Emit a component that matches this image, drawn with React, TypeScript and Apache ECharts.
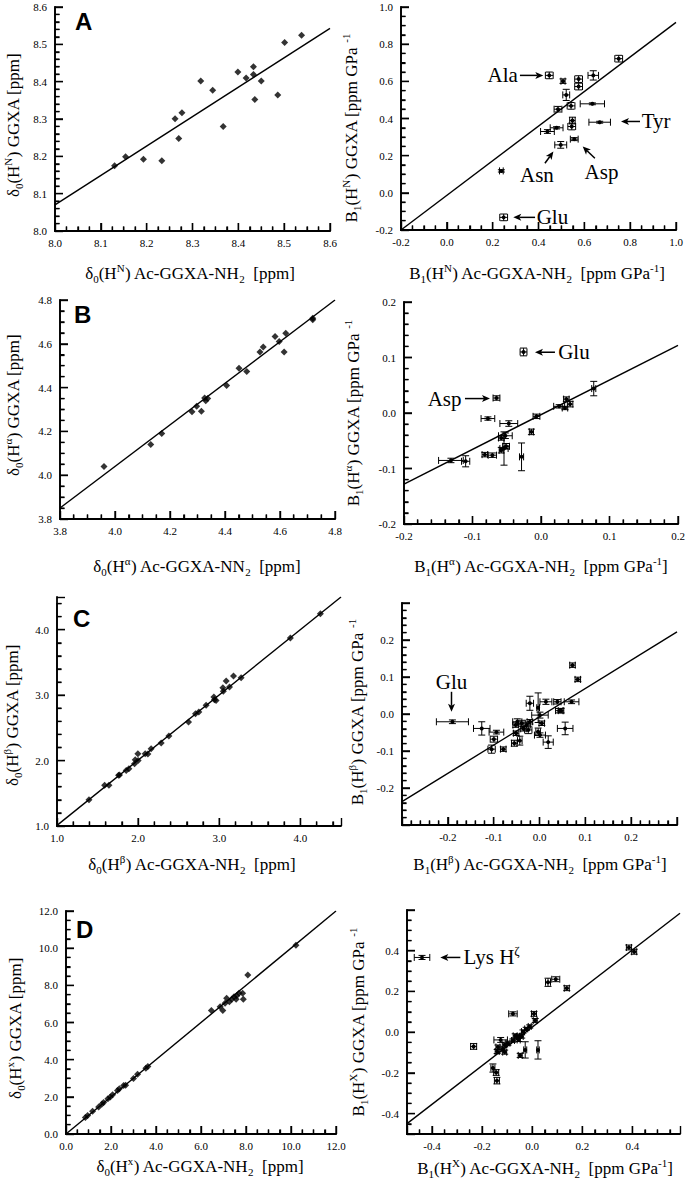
import React, { useEffect, useRef } from "react";
import * as echarts from "echarts";

const SERIF = '"Liberation Serif", "DejaVu Serif", serif';
const SANS = '"Liberation Sans", Arial, sans-serif';

// ---------- Panel A: H^N ----------
const aLeftX = [8.130, 8.154, 8.193, 8.233, 8.262, 8.270, 8.277, 8.318, 8.344, 8.367, 8.399, 8.417, 8.433, 8.433, 8.436, 8.450, 8.486, 8.501, 8.538];
const aLeftY = [8.175, 8.199, 8.192, 8.188, 8.301, 8.248, 8.317, 8.402, 8.377, 8.280, 8.426, 8.410, 8.440, 8.419, 8.352, 8.402, 8.364, 8.505, 8.524];

const aRightX = [0.447, 0.507, 0.575, 0.575, 0.639, 0.750, 0.521, 0.485, 0.542, 0.635, 0.548, 0.545, 0.667, 0.479, 0.439, 0.556, 0.497, 0.238, 0.248];
const aRightY = [0.632, 0.601, 0.612, 0.572, 0.632, 0.722, 0.527, 0.450, 0.468, 0.479, 0.389, 0.357, 0.380, 0.350, 0.330, 0.289, 0.258, 0.118, -0.132];
const aRightXErr = [0.017, 0.009, 0.017, 0.017, 0.023, 0.017, 0.015, 0.017, 0.017, 0.053, 0.012, 0.017, 0.047, 0.028, 0.030, 0.017, 0.026, 0.008, 0.017];
const aRightYErr = [0.018, 0.012, 0.018, 0.018, 0.025, 0.018, 0.030, 0.015, 0.018, 0.005, 0.018, 0.018, 0.005, 0.006, 0.010, 0.008, 0.018, 0.006, 0.018];

// ---------- Panel B: H^alpha ----------
const bLeftX = [3.96, 4.13, 4.17, 4.28, 4.297, 4.314, 4.326, 4.33, 4.337, 4.406, 4.451, 4.479, 4.527, 4.539, 4.582, 4.597, 4.615, 4.621, 4.719, 4.719];
const bLeftY = [4.04, 4.14, 4.19, 4.29, 4.315, 4.292, 4.352, 4.34, 4.35, 4.41, 4.488, 4.473, 4.562, 4.585, 4.633, 4.61, 4.562, 4.648, 4.717, 4.71];

const bRightX = [-0.0255, -0.065, -0.0775, -0.047, -0.0066, -0.014, 0.0265, 0.035, 0.037, 0.0425, 0.077, -0.052, -0.051, -0.054, -0.058, -0.082, -0.071, -0.0284, -0.1315, -0.110, -0.058];
const bRightY = [0.110, 0.027, -0.010, -0.019, -0.006, -0.034, 0.012, 0.009, 0.025, 0.016, 0.044, -0.041, -0.060, -0.064, -0.067, -0.075, -0.076, -0.079, -0.0855, -0.087, -0.045];
const bRightXErr = [0.005, 0.005, 0.010, 0.013, 0.005, 0.003, 0.008, 0.004, 0.004, 0.004, 0.003, 0.010, 0.005, 0.006, 0.003, 0.004, 0.006, 0.003, 0.018, 0.006, 0.004];
const bRightYErr = [0.007, 0.004, 0.003, 0.005, 0.004, 0.005, 0.003, 0.003, 0.004, 0.005, 0.013, 0.005, 0.005, 0.030, 0.005, 0.004, 0.004, 0.025, 0.004, 0.010, 0.004];

// ---------- Panel C: H^beta ----------
const cLeftX = [1.394, 1.587, 1.64, 1.759, 1.77, 1.853, 1.886, 1.956, 1.964, 1.997, 2.0, 2.087, 2.12, 2.16, 2.284, 2.379, 2.621, 2.707, 2.748, 2.838, 2.933, 2.96, 2.94, 3.044, 3.085, 3.05, 3.126, 3.175, 3.269, 3.876, 4.246];
const cLeftY = [1.402, 1.621, 1.621, 1.774, 1.78, 1.85, 1.876, 1.953, 2.014, 2.105, 2.0, 2.105, 2.10, 2.18, 2.268, 2.375, 2.589, 2.717, 2.742, 2.844, 2.97, 2.92, 2.93, 3.114, 3.216, 3.06, 3.124, 3.292, 3.267, 3.873, 4.245];

const cRightX = [-0.19, -0.126, -0.094, -0.0995, -0.1045, -0.079, -0.055, -0.051, -0.043, -0.0485, -0.039, -0.028, -0.0245, -0.021, -0.021, -0.003, 0.001, 0.005, -0.003, 0.001, 0.019, 0.014, 0.039, 0.070, 0.043, 0.047, 0.056, 0.072, 0.0836, -0.052, -0.035];
const cRightY = [-0.021, -0.039, -0.049, -0.068, -0.095, -0.095, -0.079, -0.052, -0.072, -0.021, -0.025, -0.030, -0.043, -0.021, 0.029, 0.017, -0.003, -0.025, -0.048, -0.057, -0.076, 0.033, 0.033, 0.033, 0.009, 0.009, -0.039, 0.132, 0.0935, -0.030, -0.040];
const cRightXErr = [0.035, 0.018, 0.016, 0.008, 0.008, 0.006, 0.006, 0.006, 0.005, 0.010, 0.008, 0.008, 0.008, 0.006, 0.008, 0.003, 0.018, 0.006, 0.005, 0.012, 0.011, 0.013, 0.008, 0.016, 0.008, 0.006, 0.017, 0.006, 0.006, 0.006, 0.006];
const cRightYErr = [0.005, 0.018, 0.005, 0.008, 0.011, 0.006, 0.008, 0.006, 0.012, 0.008, 0.008, 0.008, 0.010, 0.006, 0.019, 0.040, 0.008, 0.006, 0.010, 0.006, 0.017, 0.007, 0.006, 0.005, 0.006, 0.006, 0.017, 0.006, 0.006, 0.006, 0.006];

// ---------- Panel D: H^X ----------
const dLeftX = [0.86, 0.96, 1.18, 1.45, 1.6, 1.67, 1.86, 1.97, 2.07, 2.29, 2.37, 2.56, 2.65, 3.0, 3.18, 3.55, 3.64, 6.46, 6.85, 6.97, 7.07, 7.14, 7.26, 7.37, 7.47, 7.59, 7.56, 7.69, 7.85, 7.88, 8.08, 10.22];
const dLeftY = [0.89, 1.0, 1.22, 1.45, 1.61, 1.7, 1.9, 1.99, 2.11, 2.34, 2.43, 2.61, 2.63, 2.99, 3.22, 3.54, 3.63, 6.64, 6.85, 6.64, 7.03, 7.3, 7.12, 7.25, 7.39, 7.44, 7.25, 7.57, 7.57, 7.25, 8.55, 10.16];

const dRightX = [-0.44, -0.234, -0.077, 0.007, 0.063, 0.094, 0.138, 0.386, 0.407, 0.012, -0.01, -0.024, -0.037, -0.057, -0.068, -0.077, -0.097, -0.11, -0.126, -0.137, -0.117, -0.14, -0.11, -0.054, -0.042, -0.048, -0.028, 0.023, -0.157, -0.144, -0.141];
const dRightY = [0.367, -0.070, 0.090, 0.090, 0.245, 0.260, 0.216, 0.416, 0.395, 0.057, 0.028, 0.016, 0.003, -0.021, -0.018, -0.041, -0.054, -0.062, -0.038, -0.073, -0.083, -0.095, -0.098, -0.038, -0.021, -0.114, -0.087, -0.087, -0.176, -0.198, -0.238];
const dRightXErr = [0.031, 0.012, 0.017, 0.010, 0.010, 0.016, 0.010, 0.010, 0.010, 0.008, 0.006, 0.006, 0.006, 0.006, 0.008, 0.006, 0.008, 0.008, 0.027, 0.008, 0.008, 0.008, 0.008, 0.006, 0.006, 0.008, 0.006, 0.005, 0.008, 0.010, 0.010];
const dRightYErr = [0.010, 0.014, 0.010, 0.012, 0.020, 0.012, 0.012, 0.012, 0.012, 0.010, 0.008, 0.008, 0.008, 0.008, 0.010, 0.008, 0.010, 0.010, 0.012, 0.010, 0.010, 0.010, 0.010, 0.008, 0.008, 0.010, 0.040, 0.045, 0.020, 0.014, 0.016];

// ---------- Linear fits (intercept, slope), per panel A-left..D-right ----------
const fitIntercept = [1.766, -0.0138, 0.24, -0.003, 0.013, -0.0075, 0, 0.025];
const fitSlope = [0.788, 0.931, 0.95, 0.625, 0.997, 0.765, 1.0, 0.948];

// ---------- Axis ranges / ticks ----------
type AxSpec = { min: number; max: number; major: number; minor: number; useInterval: boolean; hideMin?: boolean; hideMax?: boolean };
const xAxes: AxSpec[] = [
  { min: 8.0, max: 8.6, major: 0.1, minor: 4, useInterval: true },
  { min: -0.2, max: 1.0, major: 0.2, minor: 4, useInterval: true },
  { min: 3.8, max: 4.8, major: 0.2, minor: 4, useInterval: true },
  { min: -0.2, max: 0.2, major: 0.1, minor: 5, useInterval: true },
  { min: 1, max: 4.5, major: 1, minor: 5, useInterval: true, hideMax: true },
  { min: -0.3, max: 0.3, major: 0.1, minor: 5, useInterval: true, hideMin: true, hideMax: true },
  { min: 0, max: 12, major: 2, minor: 4, useInterval: true },
  { min: -0.5, max: 0.59, major: 0.2, minor: 4, useInterval: false, hideMin: true, hideMax: true },
];
const yAxes: AxSpec[] = [
  { min: 8.0, max: 8.6, major: 0.1, minor: 5, useInterval: true },
  { min: -0.2, max: 1.0, major: 0.2, minor: 4, useInterval: true },
  { min: 3.8, max: 4.8, major: 0.2, minor: 4, useInterval: true },
  { min: -0.2, max: 0.2, major: 0.1, minor: 5, useInterval: true },
  { min: 1, max: 4.5, major: 1, minor: 5, useInterval: true, hideMax: true },
  { min: -0.3, max: 0.3, major: 0.1, minor: 5, useInterval: true, hideMin: true, hideMax: true },
  { min: 0, max: 12, major: 2, minor: 4, useInterval: true },
  { min: -0.5, max: 0.6, major: 0.2, minor: 4, useInterval: false, hideMin: true, hideMax: true },
];

// ---------- Layout ----------
const grids = [
  { left: 55, top: 7, width: 275, height: 224 },
  { left: 401, top: 7, width: 275, height: 223 },
  { left: 60, top: 300, width: 275, height: 219 },
  { left: 404, top: 302, width: 274, height: 222 },
  { left: 57, top: 597, width: 284, height: 229 },
  { left: 402, top: 603, width: 275, height: 222 },
  { left: 66, top: 911, width: 270, height: 223 },
  { left: 407, top: 910, width: 273, height: 224 },
];

const panelLetters = ["A", "B", "C", "D"];
const letterPos = [[75, 9], [74, 302], [73, 606], [76, 917]];

const xTitles = [
  "{n|δ}{sub|0}{n|(H}{sup|N}{n|) Ac-GGXA-NH}{sub|2}{n|  [ppm]}",
  "{n|B}{sub|1}{n|(H}{sup|N}{n|) Ac-GGXA-NH}{sub|2}{n|  [ppm GPa}{sup|-1}{n|]}",
  "{n|δ}{sub|0}{n|(H}{sup|α}{n|) Ac-GGXA-NN}{sub|2}{n|  [ppm]}",
  "{n|B}{sub|1}{n|(H}{sup|α}{n|) Ac-GGXA-NH}{sub|2}{n|  [ppm GPa}{sup|-1}{n|]}",
  "{n|δ}{sub|0}{n|(H}{sup|β}{n|) Ac-GGXA-NH}{sub|2}{n|  [ppm]}",
  "{n|B}{sub|1}{n|(H}{sup|β}{n|) Ac-GGXA-NH}{sub|2}{n|  [ppm GPa}{sup|-1}{n|]}",
  "{n|δ}{sub|0}{n|(H}{sup|x}{n|) Ac-GGXA-NH}{sub|2}{n|  [ppm]}",
  "{n|B}{sub|1}{n|(H}{sup|X}{n|) Ac-GGXA-NH}{sub|2}{n|  [ppm GPa}{sup|-1}{n|]}",
];
const yTitles = [
  "{n|δ}{sub|0}{n|(H}{sup|N}{n|) GGXA [ppm]}",
  "{n|B}{sub|1}{n|(H}{sup|N}{n|) GGXA [ppm GPa }{sup|-1}",
  "{n|δ}{sub|0}{n|(H}{sup|α}{n|) GGXA [ppm]}",
  "{n|B}{sub|1}{n|(H}{sup|α}{n|) GGXA [ppm GPa }{sup|-1}",
  "{n|δ}{sub|0}{n|(H}{sup|β}{n|) GGXA [ppm]}",
  "{n|B}{sub|1}{n|(H}{sup|β}{n|) GGXA [ppm GPa }{sup|-1}",
  "{n|δ}{sub|0}{n|(H}{sup|x}{n|) GGXA [ppm]}",
  "{n|B}{sub|1}{n|(H}{sup|X}{n|) GGXA [ppm GPa }{sup|-1}",
];
const xTitlePos = [[190, 273], [537, 273], [197, 566], [541, 566], [192, 864], [540, 864], [200, 1166], [545, 1168]];
const yTitlePos = [[13, 125], [351, 128], [13, 405], [353, 413], [12, 715], [357, 712], [15, 1028], [358, 1022]];

// Annotations (data coordinates in the given panel)
const annotations = [
  { grid: 1, label: "{a|Ala}", tail: [0.319, 0.632], tip: [0.421, 0.632], at: [0.31, 0.632], align: "right" },
  { grid: 1, label: "{a|Tyr}", tail: [0.843, 0.384], tip: [0.76, 0.384], at: [0.85, 0.384], align: "left" },
  { grid: 1, label: "{a|Asn}", tail: [0.428, 0.159], tip: [0.465, 0.222], at: [0.393, 0.097], align: "center" },
  { grid: 1, label: "{a|Asp}", tail: [0.646, 0.186], tip: [0.593, 0.249], at: [0.675, 0.114], align: "center" },
  { grid: 1, label: "{a|Glu}", tail: [0.385, -0.132], tip: [0.29, -0.132], at: [0.392, -0.132], align: "left" },
  { grid: 3, label: "{a|Glu}", tail: [0.0204, 0.1095], tip: [-0.0088, 0.1095], at: [0.025, 0.1095], align: "left" },
  { grid: 3, label: "{a|Asp}", tail: [-0.111, 0.026], tip: [-0.0745, 0.026], at: [-0.116, 0.026], align: "right" },
  { grid: 5, label: "{a|Glu}", tail: [-0.192, 0.06], tip: [-0.192, 0.006], at: [-0.192, 0.087], align: "center" },
  { grid: 7, label: "{a|Lys H}{as|ζ}", tail: [-0.287, 0.367], tip: [-0.367, 0.367], at: [-0.274, 0.367], align: "left" },
];

const titleRich = {
  n: { fontFamily: SERIF, fontSize: 17, lineHeight: 22, verticalAlign: "middle", fill: "#000" },
  sub: { fontFamily: SERIF, fontSize: 11, lineHeight: 11, verticalAlign: "bottom", fill: "#000" },
  sup: { fontFamily: SERIF, fontSize: 11, lineHeight: 11, verticalAlign: "top", fill: "#000" },
};
const annRich = {
  a: { fontFamily: SERIF, fontSize: 21, lineHeight: 26, verticalAlign: "middle", fill: "#000" },
  as: { fontFamily: SERIF, fontSize: 13, lineHeight: 13, verticalAlign: "top", fill: "#000" },
};

const fmt = (v: number) => (Math.abs(v) < 1e-9 ? 0 : v).toFixed(1);

function makeAxis(gi: number, s: AxSpec, isX: boolean) {
  const ax: any = {
    type: "value",
    gridIndex: gi,
    min: s.min,
    max: s.max,
    position: isX ? "bottom" : "left",
    axisLine: { show: true, onZero: false, lineStyle: { color: "#000", width: 1.8 } },
    axisTick: { show: true, inside: true, length: 8, lineStyle: { color: "#000", width: 1.4 } },
    minorTick: { show: true, splitNumber: s.minor, length: 4.5, lineStyle: { color: "#000", width: 1.3 } },
    splitLine: { show: false },
    minorSplitLine: { show: false },
    axisLabel: {
      show: true,
      color: "#000",
      fontFamily: SERIF,
      fontSize: 11,
      margin: isX ? 6 : 8,
      formatter: fmt,
      hideOverlap: false,
    },
  };
  if (s.useInterval) ax.interval = s.major;
  else ax.splitNumber = 5;
  if (s.hideMin) ax.axisLabel.showMinLabel = false;
  if (s.hideMax) ax.axisLabel.showMaxLabel = false;
  return ax;
}

// tick values (major flag) for an axis spec
function tickList(s: AxSpec): number[][] {
  const step = s.major / s.minor;
  const out: number[][] = [];
  const k0 = Math.ceil(s.min / step - 1e-6);
  const k1 = Math.floor(s.max / step + 1e-6);
  for (let k = k0; k <= k1; k++) {
    const v = k * step;
    const r = v / s.major;
    out.push([v, Math.abs(r - Math.round(r)) < 1e-6 ? 1 : 0]);
  }
  return out;
}

function scatterSeries(gi: number, xs: number[], ys: number[]) {
  return {
    type: "scatter",
    xAxisIndex: gi,
    yAxisIndex: gi,
    data: xs.map((x, i) => [x, ys[i]]),
    symbol: "diamond",
    symbolSize: 7,
    itemStyle: { color: "#000" },
    silent: true,
    z: 3,
  };
}

function errorSeries(gi: number, xs: number[], ys: number[], xe: number[], ye: number[]) {
  return {
    type: "custom",
    xAxisIndex: gi,
    yAxisIndex: gi,
    data: xs.map((x, i) => [x, ys[i], xe[i], ye[i]]),
    dimensions: ["x", "y", "xe", "ye"],
    encode: { x: 0, y: 1 },
    silent: true,
    clip: false,
    z: 3,
    renderItem: (_params: any, api: any) => {
      const x = api.value(0), y = api.value(1), ex = api.value(2), ey = api.value(3);
      const c = api.coord([x, y]);
      const xl = api.coord([x - ex, y])[0];
      const xr = api.coord([x + ex, y])[0];
      const yt = api.coord([x, y + ey])[1];
      const yb = api.coord([x, y - ey])[1];
      const cap = 3.5;
      const st = { stroke: "#000", lineWidth: 1 };
      const seg = (x1: number, y1: number, x2: number, y2: number) => ({ type: "line", shape: { x1, y1, x2, y2 }, style: st });
      return {
        type: "group",
        children: [
          seg(xl, c[1], xr, c[1]),
          seg(xl, c[1] - cap, xl, c[1] + cap),
          seg(xr, c[1] - cap, xr, c[1] + cap),
          seg(c[0], yt, c[0], yb),
          seg(c[0] - cap, yt, c[0] + cap, yt),
          seg(c[0] - cap, yb, c[0] + cap, yb),
          { type: "circle", shape: { cx: c[0], cy: c[1], r: 2 }, style: { fill: "#000" } },
        ],
      };
    },
  };
}

function fitSeries(gi: number) {
  const x0 = xAxes[gi].min, x1 = xAxes[gi].max;
  const a = fitIntercept[gi], b = fitSlope[gi];
  return {
    type: "line",
    xAxisIndex: gi,
    yAxisIndex: gi,
    data: [[x0, a + b * x0], [x1, a + b * x1]],
    symbol: "none",
    lineStyle: { color: "#000", width: 1.4 },
    silent: true,
    z: 2,
  };
}

function buildOption() {
  const series: any[] = [];
  for (let i = 0; i < 8; i++) series.push(fitSeries(i));
  series.push(scatterSeries(0, aLeftX, aLeftY));
  series.push(errorSeries(1, aRightX, aRightY, aRightXErr, aRightYErr));
  series.push(scatterSeries(2, bLeftX, bLeftY));
  series.push(errorSeries(3, bRightX, bRightY, bRightXErr, bRightYErr));
  series.push(scatterSeries(4, cLeftX, cLeftY));
  series.push(errorSeries(5, cRightX, cRightY, cRightXErr, cRightYErr));
  series.push(scatterSeries(6, dLeftX, dLeftY));
  series.push(errorSeries(7, dRightX, dRightY, dRightXErr, dRightYErr));
  return {
    animation: false,
    backgroundColor: "#fff",
    grid: grids.map((g) => ({ ...g, containLabel: false, outerBoundsMode: "none" })),
    xAxis: xAxes.map((s, i) => makeAxis(i, s, true)),
    yAxis: yAxes.map((s, i) => makeAxis(i, s, false)),
    series,
  };
}

function arrowEls(p0: number[], p1: number[]) {
  const dx = p1[0] - p0[0], dy = p1[1] - p0[1];
  const len = Math.hypot(dx, dy) || 1;
  const ux = dx / len, uy = dy / len;
  const hl = 8, hw = 3.5;
  const bx = p1[0] - ux * hl, by = p1[1] - uy * hl;
  return [
    { type: "line", silent: true, shape: { x1: p0[0], y1: p0[1], x2: bx + ux * 2, y2: by + uy * 2 }, style: { stroke: "#000", lineWidth: 1.5 } },
    {
      type: "polygon",
      silent: true,
      shape: { points: [[p1[0], p1[1]], [bx - uy * hw, by + ux * hw], [bx + ux * 2, by + uy * 2], [bx + uy * hw, by - ux * hw]] },
      style: { fill: "#000" },
    },
  ];
}

// Tick combs placed through the axis scales (convertToPixel), pointing inwards.
function tickEls(chart: any) {
  const els: any[] = [];
  for (let gi = 0; gi < 8; gi++) {
    const xs = xAxes[gi], ys = yAxes[gi];
    const xPts: number[][] = [];
    tickList(xs).forEach(([v, m]) => {
      const p = chart.convertToPixel({ gridIndex: gi }, [v, ys.min]);
      const len = m ? 8 : 4.5;
      xPts.push([p[0], p[1]], [p[0], p[1] - len], [p[0], p[1]]);
    });
    const yPts: number[][] = [];
    tickList(ys).forEach(([v, m]) => {
      const p = chart.convertToPixel({ gridIndex: gi }, [xs.min, v]);
      const len = m ? 8 : 4.5;
      yPts.push([p[0], p[1]], [p[0] + len, p[1]], [p[0], p[1]]);
    });
    els.push({ type: "polyline", silent: true, z: 100, shape: { points: xPts }, style: { stroke: "#000", lineWidth: 1.3, fill: null } });
    els.push({ type: "polyline", silent: true, z: 100, shape: { points: yPts }, style: { stroke: "#000", lineWidth: 1.3, fill: null } });
  }
  return els;
}

function buildGraphics(chart: any) {
  const els: any[] = [];
  els.push(...tickEls(chart));
  panelLetters.forEach((L, i) => {
    els.push({
      type: "text",
      silent: true,
      x: letterPos[i][0],
      y: letterPos[i][1],
      style: { text: L, fontFamily: SANS, fontSize: 24, fontWeight: "bold", fill: "#000", align: "left", verticalAlign: "top" },
    });
  });
  xTitles.forEach((t, i) => {
    els.push({
      type: "text",
      silent: true,
      x: xTitlePos[i][0],
      y: xTitlePos[i][1],
      style: { text: t, rich: titleRich, fill: "#000", align: "center", verticalAlign: "middle" },
    });
  });
  yTitles.forEach((t, i) => {
    els.push({
      type: "text",
      silent: true,
      x: yTitlePos[i][0],
      y: yTitlePos[i][1],
      rotation: Math.PI / 2,
      style: { text: t, rich: titleRich, fill: "#000", align: "center", verticalAlign: "middle" },
    });
  });
  annotations.forEach((a) => {
    const tail = chart.convertToPixel({ gridIndex: a.grid }, a.tail);
    const tip = chart.convertToPixel({ gridIndex: a.grid }, a.tip);
    const at = chart.convertToPixel({ gridIndex: a.grid }, a.at);
    els.push(...arrowEls(tail, tip));
    els.push({
      type: "text",
      silent: true,
      x: at[0],
      y: at[1],
      style: { text: a.label, rich: annRich, fill: "#000", align: a.align, verticalAlign: "middle" },
    });
  });
  return els;
}

export default function App() {
  const ref = useRef<HTMLDivElement>(null);
  useEffect(() => {
    const chart = echarts.init(ref.current as HTMLDivElement, null, { renderer: "svg", width: 685, height: 1185 });
    chart.setOption(buildOption() as any);
    chart.setOption({ graphic: { elements: buildGraphics(chart) } } as any);
    return () => chart.dispose();
  }, []);
  return (
    <div
      ref={ref}
      style={{ position: "absolute", left: 0, top: 0, width: 685, height: 1185, background: "#fff" }}
    />
  );
}
